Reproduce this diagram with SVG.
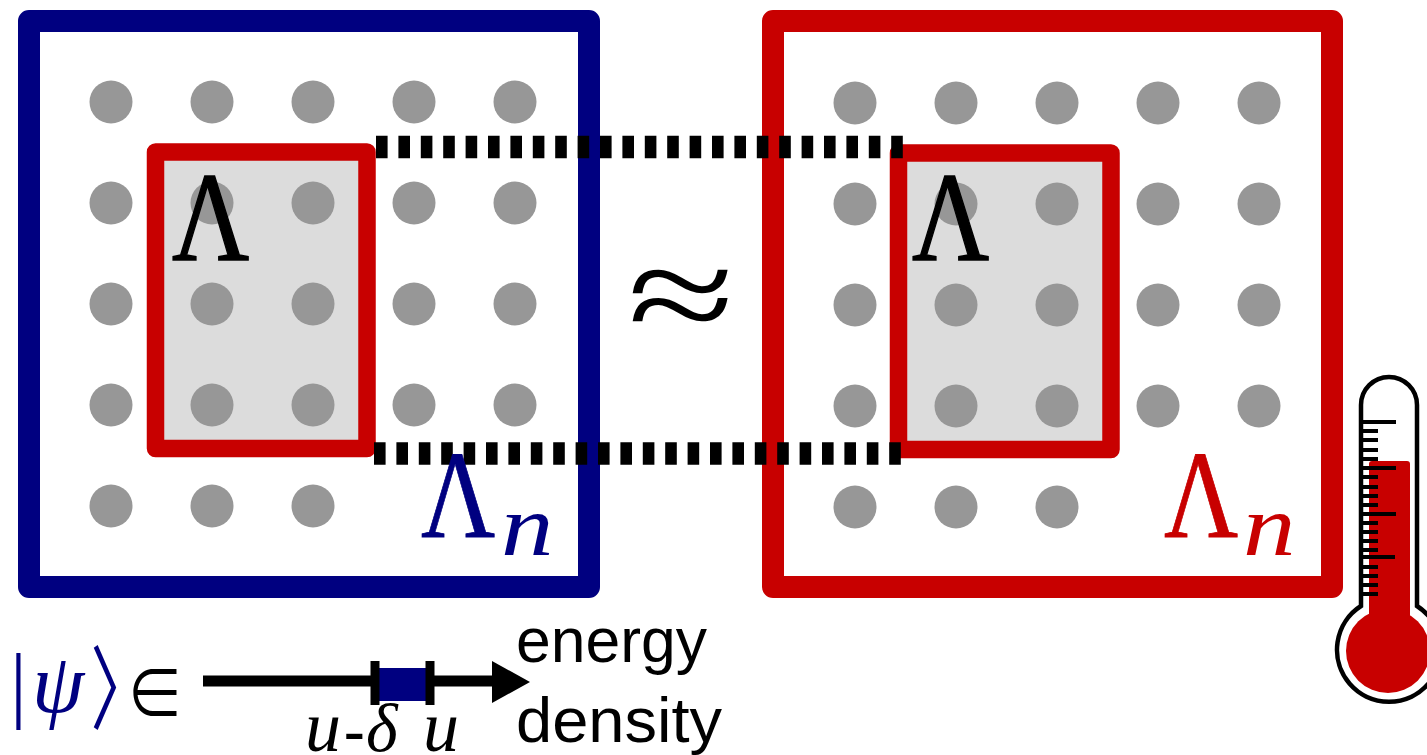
<svg xmlns="http://www.w3.org/2000/svg" width="1427" height="755" viewBox="0 0 1427 755">
<style>
.d{fill:#979797}
.s{font-family:"Liberation Serif","DejaVu Serif",serif}
.i{font-family:"Liberation Serif","DejaVu Serif",serif;font-style:italic}
.h{font-family:"Liberation Sans",Arial,sans-serif;font-size:63px;fill:#000}
.dash{fill:none;stroke:#000;stroke-width:22.5;stroke-dasharray:11.6 10.8}
.tick{stroke:#000;stroke-width:4.2;fill:none}
.box{stroke-linejoin:round}
</style>
<defs>
<g id="row5"><circle class="d" cx="0" cy="0" r="21.5"/><circle class="d" cx="101" cy="0" r="21.5"/><circle class="d" cx="202" cy="0" r="21.5"/><circle class="d" cx="303" cy="0" r="21.5"/><circle class="d" cx="404" cy="0" r="21.5"/></g>
<g id="row3"><circle class="d" cx="0" cy="0" r="21.5"/><circle class="d" cx="101" cy="0" r="21.5"/><circle class="d" cx="202" cy="0" r="21.5"/></g>
</defs>
<rect width="1427" height="755" fill="#fff"/>
<g id="box-left">
<rect class="box" x="29" y="21" width="560" height="566" fill="#fff" stroke="#000080" stroke-width="22"/>
</g>
<g id="box-right">
<rect class="box" x="773" y="21" width="559" height="566" fill="#fff" stroke="#c80000" stroke-width="22"/>
</g>
<g id="inner-left">
<rect class="box" x="155.500" y="152" width="211.500" height="296.500" fill="#dcdcdc" stroke="#c80000" stroke-width="17.500"/>
</g>
<g id="inner-right">
<rect class="box" x="898.500" y="153" width="212.500" height="296.500" fill="#dcdcdc" stroke="#c80000" stroke-width="17.500"/>
</g>
<g id="dots-left">
<use href="#row5" x="111" y="102"/><use href="#row5" x="111" y="203"/><use href="#row5" x="111" y="304"/><use href="#row5" x="111" y="405"/><use href="#row3" x="111" y="506"/>
</g>
<g id="dots-right">
<use href="#row5" x="855" y="103"/><use href="#row5" x="855" y="204"/><use href="#row5" x="855" y="305"/><use href="#row5" x="855" y="406"/><use href="#row3" x="855" y="507"/>
</g>
<g id="connectors">
<line class="dash" x1="376" y1="147" x2="904" y2="147"/>
<line class="dash" x1="374" y1="453.500" x2="901" y2="453.500"/>
</g>
<g id="labels">
<text class="s" transform="translate(172 260) scale(0.84 1)" font-size="127" fill="#000" stroke="#000" stroke-width="1.5">Λ</text>
<text class="s" transform="translate(912 260) scale(0.84 1)" font-size="127" fill="#000" stroke="#000" stroke-width="1.5">Λ</text>
<text class="s" transform="translate(421 537) scale(0.82 1)" font-size="125" fill="#000080" stroke="#000080" stroke-width="0.8">Λ</text>
<text class="i" transform="translate(501 555) scale(1.22 1)" font-size="86" fill="#000080">n</text>
<text class="s" transform="translate(1164 537) scale(0.82 1)" font-size="125" fill="#c80000" stroke="#c80000" stroke-width="0.8">Λ</text>
<text class="i" transform="translate(1243 555) scale(1.22 1)" font-size="86" fill="#c80000">n</text>
<text class="s" transform="translate(681 342) scale(1.4 1)" font-size="140" text-anchor="middle" fill="#000">≈</text>
</g>
<g id="axis">
<text class="s" x="10" y="712" font-size="84" fill="#000080">|</text>
<text class="i" x="32" y="712" font-size="84" fill="#000080">ψ</text>
<text font-family="Noto Sans CJK SC,sans-serif" transform="translate(90.500 722) scale(0.65 0.95)" font-size="96" fill="#000080">〉</text>
<text font-family="Noto Sans CJK SC,sans-serif" transform="translate(126.300 719) scale(0.96 1.2)" font-size="60" fill="#000">∈</text>
<line x1="203" y1="681" x2="500" y2="681" stroke="#000" stroke-width="11"/>
<rect x="378" y="668" width="50" height="33" fill="#000080"/>
<line x1="375" y1="661" x2="375" y2="705" stroke="#000" stroke-width="9"/>
<line x1="430" y1="661" x2="430" y2="705" stroke="#000" stroke-width="9"/>
<polygon points="492,661 530,682 492,703" fill="#000"/>
<text class="i" x="305" y="751" font-size="72" fill="#000">u</text>
<text class="s" x="344" y="751" font-size="62" font-weight="bold" fill="#000">-</text>
<text class="i" x="366" y="751" font-size="68" fill="#000">δ</text>
<text class="i" x="423" y="751" font-size="72" fill="#000">u</text>
<text class="h" x="516" y="662" textLength="191" lengthAdjust="spacingAndGlyphs">energy</text>
<text class="h" x="516" y="742" textLength="206" lengthAdjust="spacingAndGlyphs">density</text>
</g>
<g id="thermometer">
<path d="M1361 606V405A28 28 0 0 1 1417 405V606A52 52 0 1 1 1361 606Z" fill="#fff" stroke="#000" stroke-width="4.500"/>
<circle cx="1388" cy="651" r="42" fill="#c80000"/>
<path d="M1369 620V464Q1369 461 1372 461H1407Q1410 461 1410 464V620Z" fill="#c80000"/>
<path class="tick" d="M1361 422H1396M1361 431H1378M1361 440H1378M1361 450H1378M1361 459H1378M1361 468H1396M1361 477H1378M1361 487H1378M1361 496H1378M1361 505H1378M1361 514H1396M1361 523H1378M1361 532H1378M1361 541H1378M1361 550H1378M1361 557H1395M1361 567H1378M1361 576H1378M1361 585H1378M1361 594H1378"/>
</g>
</svg>
